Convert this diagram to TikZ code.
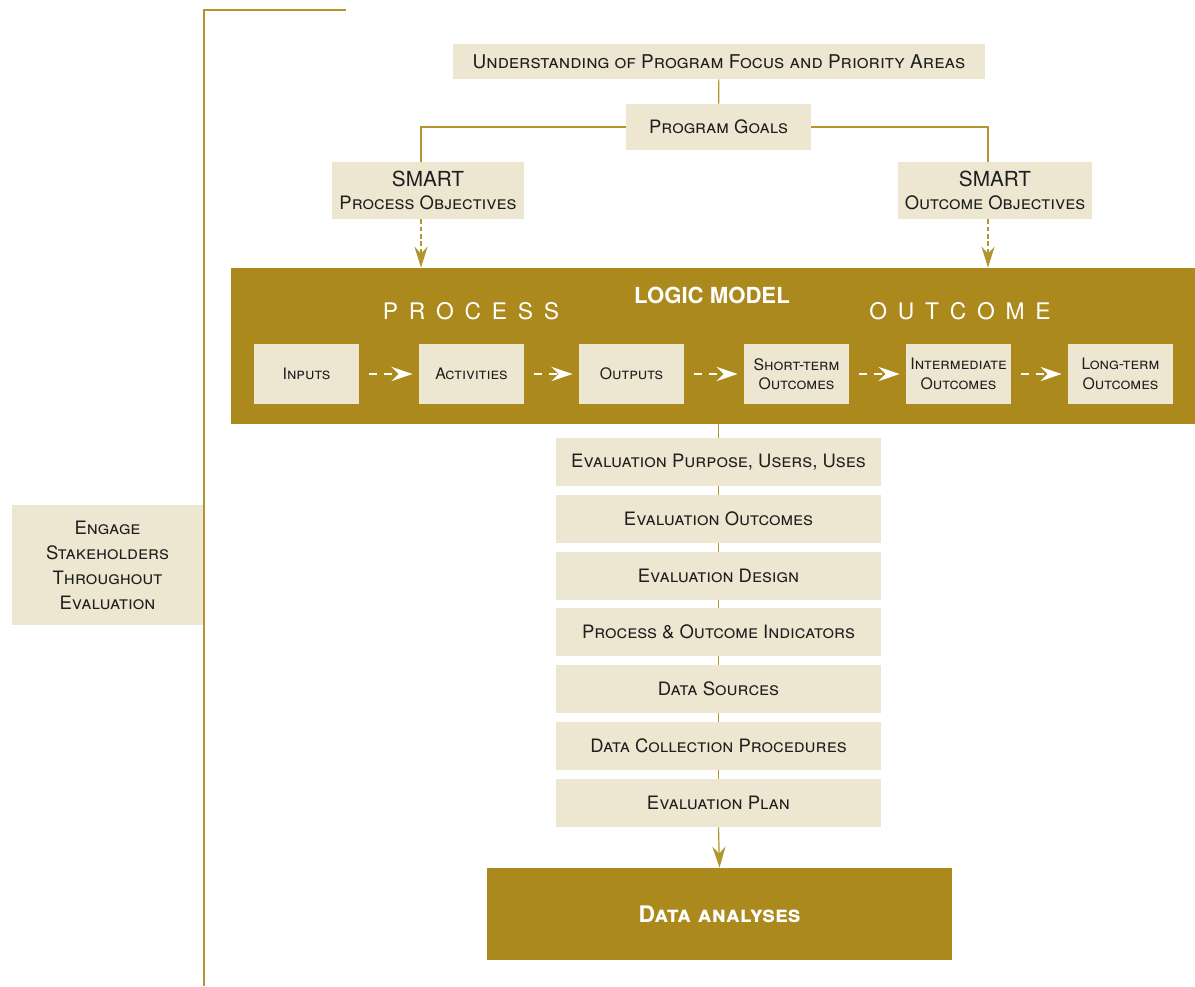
\documentclass[tikz,border=0pt]{standalone}
\usepackage{fontspec}
\setmainfont{TeX Gyre Heros}
\usetikzlibrary{arrows.meta}
\definecolor{goldfill}{HTML}{AC891D}
\definecolor{lightfill}{HTML}{EDE6D0}
\definecolor{goldline}{HTML}{B3952F}
\definecolor{inktext}{HTML}{1E1E1E}
\newcommand{\gp}{\hspace{0.47em}}

\begin{document}
\begin{tikzpicture}[x=0.02cm, y=-0.02cm,
    lightbox/.style={fill=lightfill, text=inktext, inner sep=0pt, align=center,
        font=\fontsize{10.5}{13}\selectfont\scshape},
    flowbox/.style={lightbox, minimum width=2.1cm, minimum height=1.2cm,
        font=\fontsize{9}{11}\selectfont\scshape},
    evalbox/.style={lightbox, minimum width=6.5cm, minimum height=0.96cm},
    link/.style={draw=goldline, line width=0.7pt},
    goalarrow/.style={link, dash pattern=on 2.6pt off 1.6pt,
        -{Stealth[length=12pt, width=7.5pt, inset=4pt]}},
    flowarrow/.style={draw=white, line width=1.7pt, dash pattern=on 4.5pt off 4pt,
        -{Stealth[length=12pt, width=8pt, inset=4pt]}}]
    \useasboundingbox (0,0) rectangle (1195,986);
    % Bracket on the left
    \coordinate (brtop) at (346,10);
    \coordinate (brcorner) at (204,10);
    \coordinate (brfoot) at (204,986);
    \node[lightbox, minimum width=3.82cm, minimum height=2.4cm,
        font=\fontsize{10.5}{14.2}\selectfont\scshape] (engage) at (107.5,565)
        {Engage\\Stakeholders\\Throughout\\Evaluation};
    \draw[link] (brtop) -- (brcorner) -- (brfoot);
    % Goals and objectives
    \node[lightbox, minimum width=10.64cm, minimum height=0.7cm,
        font=\fontsize{10.8}{13}\selectfont\scshape] (focus) at (719,61.5)
        {Understanding of Program Focus and Priority Areas};
    \node[lightbox, minimum width=3.7cm, minimum height=0.92cm] (goals) at (718.5,127)
        {Program Goals};
    \node[lightbox, minimum width=3.84cm, minimum height=1.14cm] (smartp) at (428,190.5)
        {{\upshape\fontsize{11.8}{14}\selectfont SMART}\\Process Objectives};
    \node[lightbox, minimum width=3.88cm, minimum height=1.14cm] (smarto) at (995,190.5)
        {{\upshape\fontsize{11.8}{14}\selectfont SMART}\\Outcome Objectives};
    \draw[link] (focus) -- (goals);
    \draw[link] (goals.west) -| ([xshift=-0.14cm]smartp.north);
    \draw[link] (goals.east) -| ([xshift=-0.14cm]smarto.north);
    % Logic model
    \node[fill=goldfill, minimum width=19.28cm, minimum height=3.12cm, inner sep=0pt]
        (logic) at (713,346) {};
    \node[text=white, font=\fontsize{12.6}{14}\selectfont\bfseries] (logictitle) at (712,295)
        {LOGIC MODEL};
    \node[text=white, font=\fontsize{13}{15}\selectfont] (proctitle) at (471,311)
        {P\gp R\gp O\gp C\gp E\gp S\gp S};
    \node[text=white, font=\fontsize{13}{15}\selectfont] (outctitle) at (960,311)
        {O\gp U\gp T\gp C\gp O\gp M\gp E};
    \draw[goalarrow] ([xshift=-0.14cm]smartp.south) -- ([xshift=-0.14cm]smartp.south |- logic.north);
    \draw[goalarrow] ([xshift=-0.14cm]smarto.south) -- ([xshift=-0.14cm]smarto.south |- logic.north);
    \node[flowbox] (inputs) at (306.5,374) {Inputs};
    \node[flowbox] (activities) at (471.5,374) {Activities};
    \node[flowbox] (outputs) at (631.5,374) {Outputs};
    \node[flowbox] (shortterm) at (796.5,374) {Short-term\\Outcomes};
    \node[flowbox] (intermediate) at (958.5,374) {Intermediate\\Outcomes};
    \node[flowbox] (longterm) at (1120.5,374) {Long-term\\Outcomes};
    \foreach \a/\b in {inputs/activities, activities/outputs, outputs/shortterm,
        shortterm/intermediate, intermediate/longterm}
        \draw[flowarrow] ([xshift=0.2cm]\a.east) -- ([xshift=-0.12cm]\b.west);
    % Evaluation steps
    \node[evalbox] (purpose) at (718.5,462) {Evaluation Purpose, Users, Uses};
    \node[evalbox] (evaloutc) at (718.5,519) {Evaluation Outcomes};
    \node[evalbox] (design) at (718.5,576) {Evaluation Design};
    \node[evalbox] (indicators) at (718.5,632) {Process \& Outcome Indicators};
    \node[evalbox] (sources) at (718.5,689) {Data Sources};
    \node[evalbox] (procedures) at (718.5,746) {Data Collection Procedures};
    \node[evalbox] (plan) at (718.5,803) {Evaluation Plan};
    \draw[link] (logic.south -| purpose.north) -- (purpose.north);
    \foreach \a/\b in {purpose/evaloutc, evaloutc/design, design/indicators,
        indicators/sources, sources/procedures, procedures/plan}
        \draw[link] (\a.south) -- (\b.north);
    % Data analyses
    \node[fill=goldfill, text=white, minimum width=9.3cm, minimum height=1.84cm, inner sep=0pt,
        font=\fontsize{13}{15}\selectfont\bfseries\scshape] (analyses) at (719.5,914)
        {Data analyses};
    \draw[link, -{Stealth[length=12pt, width=7.5pt, inset=4pt]}] (plan.south) -- (analyses.north);
\end{tikzpicture}
\end{document}
